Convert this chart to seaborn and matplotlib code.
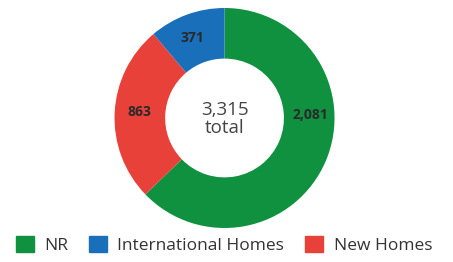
import matplotlib
matplotlib.use("Agg")
import matplotlib.pyplot as plt
import matplotlib.patches as mpatches
import numpy as np
import seaborn as sns

# slices drawn clockwise from the top
labels = ["NR", "New Homes", "International Homes"]
values = [2081, 863, 371]
colors = ["#0f9140", "#e8413a", "#1a6fba"]
legend_order = ["NR", "International Homes", "New Homes"]

# where each value label sits on the ring (degrees)
label_angles = [2, 176, 112]

sns.set_theme(style="white")
plt.rcParams["font.family"] = ["Open Sans", "DejaVu Sans"]

fig = plt.figure(figsize=(4.53, 2.62), dpi=100)
ax = fig.add_axes([0.2528, 0.1298, 0.4857, 0.8397])

wedges, _ = ax.pie(
    values,
    colors=colors,
    startangle=90,
    counterclock=False,
    radius=1.0,
    wedgeprops=dict(width=0.46, edgecolor="none"),
)

for ang, v in zip(label_angles, values):
    a = np.deg2rad(ang)
    r = 0.78
    ax.text(r * np.cos(a), r * np.sin(a), f"{v:,}", ha="center", va="center",
            fontsize=10, fontweight="bold", color="#2a2a2a")

total = sum(values)
ax.text(0, -0.01, f"{total:,}\ntotal", ha="center", va="center", fontsize=13.5,
        color="#444444", linespacing=0.95)
ax.set_xlim(-1, 1)
ax.set_ylim(-1, 1)
ax.set_aspect("equal")

color_map = dict(zip(labels, colors))
handles = [mpatches.Patch(color=color_map[l], label=l) for l in legend_order]
fig.legend(handles=handles, loc="lower left", bbox_to_anchor=(0.0, -0.03), ncol=3,
           frameon=False, fontsize=12.5, handlelength=1.04, handleheight=1.04,
           handletextpad=0.6, columnspacing=1.2, labelcolor="#333333")

fig.savefig("out.png", dpi=100)
